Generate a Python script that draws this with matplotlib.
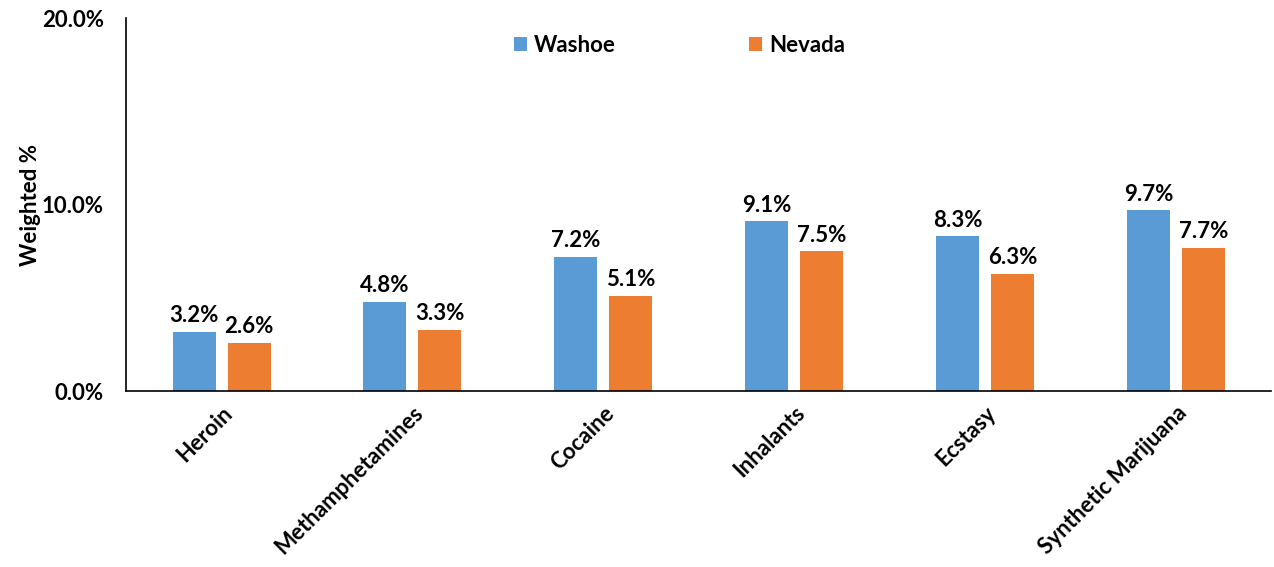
import numpy as np
import matplotlib.pyplot as plt
from matplotlib.ticker import FuncFormatter

plt.rcParams['font.family'] = ['Lato', 'DejaVu Sans']
plt.rcParams['font.weight'] = 'bold'

categories = ['Heroin', 'Methamphetamines', 'Cocaine', 'Inhalants', 'Ecstasy',
              'Synthetic Marijuana']
washoe = [3.2, 4.8, 7.2, 9.1, 8.3, 9.7]
nevada = [2.6, 3.3, 5.1, 7.5, 6.3, 7.7]
y_ticks = [0, 10, 20]

washoe_color = '#5B9BD5'
nevada_color = '#ED7D31'
fs = 16

fig = plt.figure(figsize=(12.74, 5.67), dpi=100)
ax = fig.add_axes([0.099, 0.310, 0.899, 0.658])

x = np.arange(len(categories))
width = 0.225
offset = 0.144

b1 = ax.bar(x - offset, washoe, width, color=washoe_color, label='Washoe')
b2 = ax.bar(x + offset, nevada, width, color=nevada_color, label='Nevada')

for bars, vals in ((b1, washoe), (b2, nevada)):
    for bar, v in zip(bars, vals):
        ax.text(bar.get_x() + bar.get_width() / 2, v + 0.3, f'{v:.1f}%',
                ha='center', va='bottom', fontsize=fs, fontweight='bold')

ax.set_xlim(-0.5, len(categories) - 0.5)
ax.set_ylim(0, 20)
ax.set_yticks(y_ticks)
ax.yaxis.set_major_formatter(FuncFormatter(lambda v, p: f'{v:.1f}%'))
ax.set_xticks(x)
ax.set_xticklabels(categories, rotation=45, ha='right', rotation_mode='anchor')
ax.tick_params(axis='both', length=0, labelsize=fs)
ax.tick_params(axis='y', pad=16)
ax.tick_params(axis='x', pad=8)

for side in ('top', 'right'):
    ax.spines[side].set_visible(False)
for side in ('left', 'bottom'):
    ax.spines[side].set_linewidth(1.2)

ax.set_ylabel('Weighted %', fontsize=fs, fontweight='bold', labelpad=1)

ax.legend(loc='upper center', bbox_to_anchor=(0.483, 1.008), ncol=2, frameon=False,
          fontsize=fs, handlelength=0.6, handleheight=0.6, handletextpad=0.3,
          columnspacing=6.0)

fig.savefig('out.png', dpi=100)
